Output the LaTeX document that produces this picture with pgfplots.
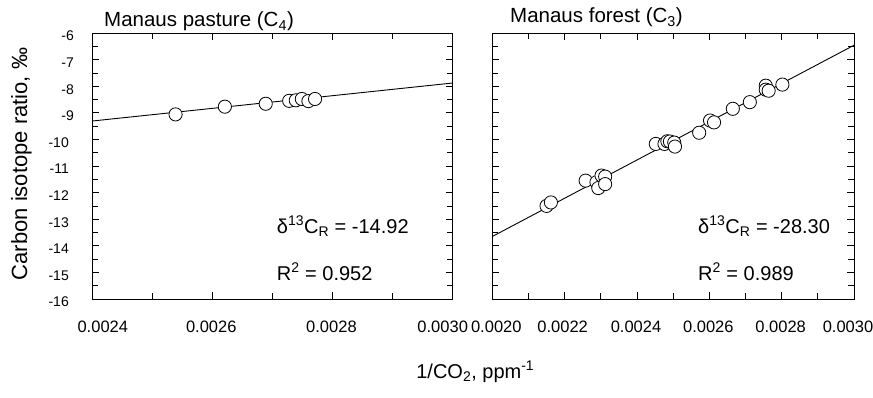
\documentclass[border=0pt]{standalone}
\usepackage{pgfplots}
\pgfplotsset{compat=1.18}
\usepackage{fontspec}
\setmainfont{Liberation Sans}
\newcommand{\fs}[1]{\fontsize{#1}{#1}\selectfont}
\newcommand{\sh}[2]{\hspace*{#1}#2\hspace*{-#1}}

\pgfplotsset{
  myax/.style={
    scale only axis, height=266pt,
    ymin=-16, ymax=-6,
    ytick={-16,-15,-14,-13,-12,-11,-10,-9,-8,-7,-6},
    minor y tick num=1,
    scaled x ticks=false,
    tick align=inside,
    xtick pos=both, ytick pos=both,
    xticklabel pos=left, yticklabel pos=left,
    major tick length=7pt, minor tick length=6pt,
    axis line style={line width=1pt},
    every tick/.style={black, line width=0.8pt},
    xticklabel style={font=\fs{16.5}, anchor=base, inner sep=0pt, yshift=-33pt},
    yticklabel style={font=\fs{14}, anchor=east, inner sep=0pt, xshift=-18pt, yshift=-3pt},
    clip=false,
  },
  pts/.style={only marks, mark=*, mark size=6.6pt, mark options={fill=white, draw=black, line width=0.8pt}},
  fit/.style={black, line width=0.9pt, no marks},
}

\pgfplotstableread{
x y
0.002539 -9.06
0.002621 -8.77
0.002689 -8.66
0.002728 -8.55
0.002739 -8.53
0.002749 -8.48
0.002760 -8.56
0.002771 -8.48
}\pasture

\pgfplotstableread{
x y
0.002150 -12.50
0.002162 -12.37
0.002258 -11.55
0.002288 -11.61
0.002293 -11.83
0.002302 -11.36
0.002312 -11.40
0.002312 -11.68
0.002452 -10.17
0.002476 -10.17
0.002484 -10.07
0.002491 -10.08
0.002503 -10.12
0.002505 -10.27
0.002572 -9.75
0.002602 -9.29
0.002613 -9.36
0.002665 -8.85
0.002712 -8.60
0.002756 -7.98
0.002756 -8.13
0.002764 -8.17
0.002802 -7.94
}\forest

\begin{document}
\begin{tikzpicture}
\useasboundingbox (0,0) rectangle (873pt,397pt);

\begin{axis}[myax, at={(92pt,98pt)}, anchor=south west, width=360.7pt,
  xmin=0.0024, xmax=0.0030,
  xtick={0.0024,0.0026,0.0028,0.0030},
  minor xtick={0.0025,0.0027,0.0029},
  xticklabels={\sh{10.8pt}{0.0024},\sh{-1pt}{0.0026},\sh{-1pt}{0.0028},\sh{-10pt}{0.0030}},
  yticklabels={-16\hspace*{5pt},-15\hspace*{5pt},-14\hspace*{5pt},-13\hspace*{5pt},-12\hspace*{5pt},-11\hspace*{5pt},-10\hspace*{5pt},-9,-8,-7,-6},
]
\addplot[fit] coordinates {(0.0024,-9.31) (0.0030,-7.88)};
\addplot[pts] table[x=x,y=y] {\pasture};
\end{axis}

\begin{axis}[myax, at={(492.3pt,98pt)}, anchor=south west, width=361.7pt,
  xmin=0.0020, xmax=0.0030,
  xtick={0.0020,0.0022,0.0024,0.0026,0.0028,0.0030},
  minor x tick num=1,
  xticklabels={\sh{4pt}{0.0020},\sh{-2pt}{0.0022},\sh{-1pt}{0.0024},\sh{-1pt}{0.0026},\sh{-1pt}{0.0028},\sh{-6pt}{0.0030}},
  yticklabels={},
]
\addplot[fit] coordinates {(0.0020,-13.65) (0.0030,-6.46)};
\addplot[pts] table[x=x,y=y] {\forest};
\end{axis}

% titles
\node[anchor=base west, inner sep=0pt, font=\fs{20.5}] at (104pt,370pt) {Manaus pasture (C\textsubscript{4})};
\node[anchor=base west, inner sep=0pt, font=\fs{20.5}] at (510pt,374pt) {Manaus forest (C\textsubscript{3})};

% annotations
\node[anchor=base west, inner sep=0pt, font=\fs{20}] at (276.7pt,164pt) {δ\textsuperscript{13}C\textsubscript{R} = -14.92};
\node[anchor=base west, inner sep=0pt, font=\fs{20}] at (276.7pt,117pt) {R\textsuperscript{2} = 0.952};
\node[anchor=base west, inner sep=0pt, font=\fs{20}] at (698pt,164pt) {δ\textsuperscript{13}C\textsubscript{R} = -28.30};
\node[anchor=base west, inner sep=0pt, font=\fs{20}] at (698pt,117pt) {R\textsuperscript{2} = 0.989};

% axis labels
\node[rotate=90, anchor=base, inner sep=0pt, font=\fs{22}] at (27pt,233pt) {Carbon isotope ratio, ‰};
\node[anchor=base, inner sep=0pt, font=\fs{20}] at (475.3pt,19pt) {1/CO\textsubscript{2}, ppm\textsuperscript{-1}};
\end{tikzpicture}
\end{document}
